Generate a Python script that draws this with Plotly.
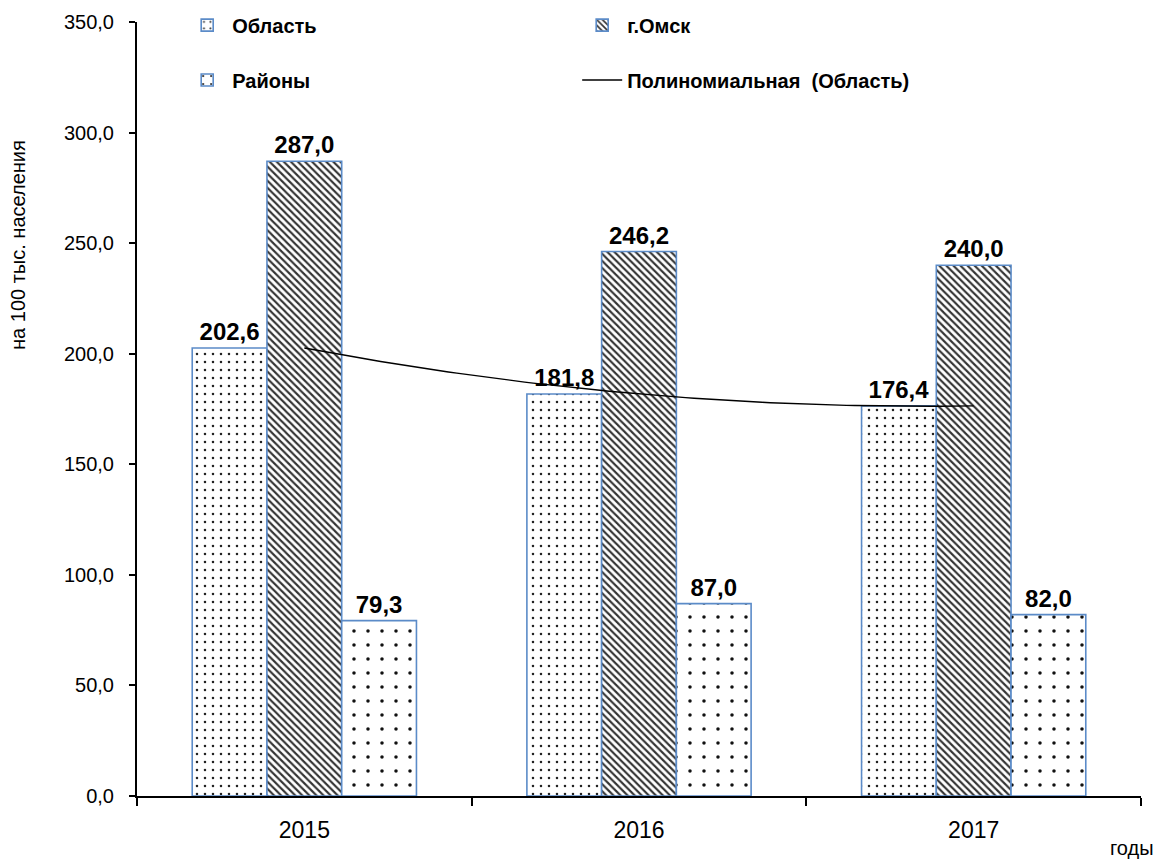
import numpy as np
import plotly.graph_objects as go

years = ["2015", "2016", "2017"]
oblast = [202.6, 181.8, 176.4]
omsk = [287.0, 246.2, 240.0]
rayony = [79.3, 87.0, 82.0]

y_ticks = [0, 50, 100, 150, 200, 250, 300, 350]

font_main = "Liberation Sans, Arial, sans-serif"
edge = "#5B8BC8"

fig = go.Figure()

# name, values, pattern shape, size, solidity, colour, legend
series = [
    ("Область", oblast, ".", 8, 0.08, "#222222", "legend"),
    ("г.Омск", omsk, "\\", 5, 0.42, "#333333", "legend"),
    ("Районы", rayony, ".", 14, 0.05, "#111111", "legend2"),
]
for name, vals, shape, size, solid, fg, lg in series:
    fig.add_trace(go.Bar(
        x=years, y=vals, name=name,
        marker=dict(
            color="white",
            line=dict(color=edge, width=1.6),
            pattern=dict(shape=shape, size=size, solidity=solid,
                         fgcolor=fg, bgcolor="white", fillmode="replace"),
        ),
        text=vals, texttemplate="%{y:.1f}", textposition="outside",
        textfont=dict(family=font_main, size=24, color="black", weight="bold"),
        cliponaxis=False,
        legend=lg,
    ))

# second-degree polynomial trend of the "Область" series
idx = np.arange(len(oblast))
coef = np.polyfit(idx, oblast, 2)
xs = np.linspace(0, len(oblast) - 1, 80)
fig.add_trace(go.Scatter(
    x=xs, y=np.polyval(coef, xs), mode="lines",
    name="Полиномиальная  (Область)",
    line=dict(color="black", width=1.4),
    xaxis="x2", legend="legend2", showlegend=True,
))

legend_common = dict(
    orientation="h", xanchor="left", yanchor="middle",
    font=dict(family=font_main, size=20, color="black", weight="bold"),
    entrywidth=340, entrywidthmode="pixels", itemwidth=40,
    bgcolor="rgba(0,0,0,0)", traceorder="normal",
)

fig.update_layout(
    width=1159, height=860,
    margin=dict(l=137, r=18, t=22, b=64, autoexpand=False),
    paper_bgcolor="white", plot_bgcolor="white",
    separators=", ",
    barmode="group", bargap=0.33, bargroupgap=0,
    font=dict(family=font_main, size=20, color="black"),
    legend=dict(x=0.045, y=0.996, **legend_common),
    legend2=dict(x=0.045, y=0.925, **legend_common),
    xaxis=dict(
        type="category", tickson="boundaries", ticks="outside", ticklen=8,
        tickwidth=1.5, tickcolor="black", showline=True, linecolor="black",
        linewidth=2, showgrid=False, tickfont=dict(size=23),
        ticklabelstandoff=12, range=[-0.5, 2.5], automargin=False,
    ),
    xaxis2=dict(overlaying="x", range=[-0.5, 2.5], visible=False),
    yaxis=dict(
        range=[0, 350], tickvals=y_ticks, tickformat=".1f",
        ticks="outside", ticklen=6, tickwidth=1.5, tickcolor="black",
        showline=True, linecolor="black", linewidth=2, showgrid=False,
        zeroline=False, tickfont=dict(size=20), ticklabelstandoff=11,
        automargin=False,
    ),
    annotations=[
        dict(text="на 100 тыс. населения", textangle=-90, xref="paper",
             yref="paper", x=-0.1185, y=0.712, xanchor="center",
             yanchor="middle", showarrow=False,
             font=dict(family=font_main, size=20, color="black")),
        dict(text="годы", xref="paper", yref="paper", x=1.015, y=-0.067,
             xanchor="right", yanchor="middle", showarrow=False,
             font=dict(family=font_main, size=20, color="black")),
    ],
)

fig.write_html("out.html")
